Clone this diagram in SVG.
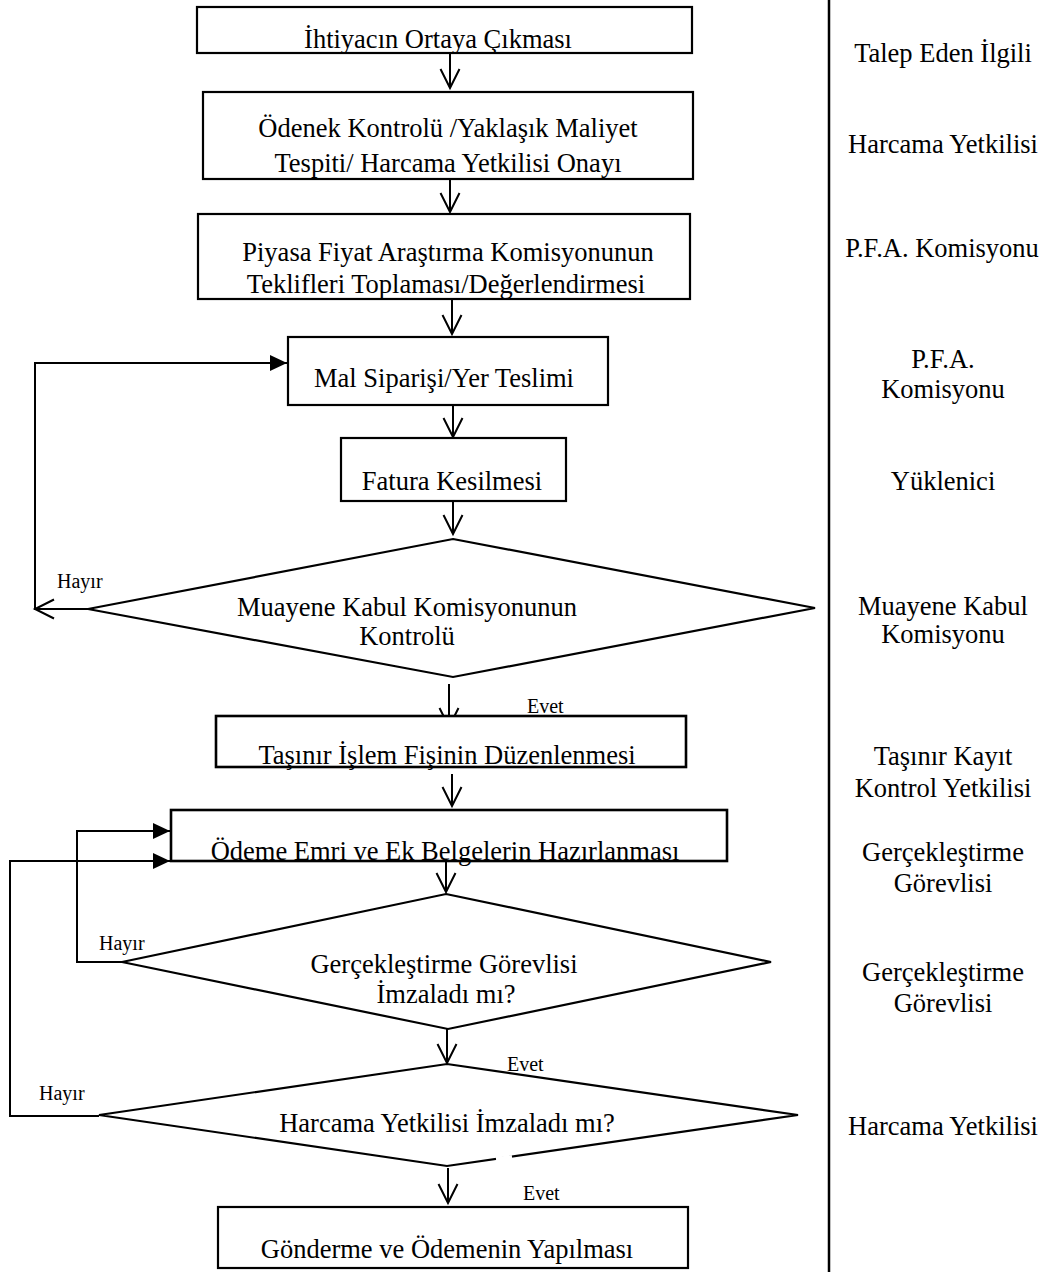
<svg xmlns="http://www.w3.org/2000/svg" width="1057" height="1272" viewBox="0 0 1057 1272">
<style>
.bx{fill:#fff;stroke:#000;stroke-width:2.2}
.ln{fill:none;stroke:#000;stroke-width:2}
.t{font-family:"Liberation Serif","Times New Roman",serif;font-size:26.5px;fill:#000;text-anchor:middle}
.s{font-family:"Liberation Serif","Times New Roman",serif;font-size:20px;fill:#000}
</style>
<defs>
<marker id="open" markerUnits="userSpaceOnUse" markerWidth="24" markerHeight="24" refX="20" refY="12" orient="auto">
<path d="M1,2.5 L20,12 L1,21.5" fill="none" stroke="#000" stroke-width="2"/>
</marker>
<marker id="fill" markerUnits="userSpaceOnUse" markerWidth="20" markerHeight="20" refX="17" refY="10" orient="auto">
<path d="M0,2 L17,10 L0,18 Z" fill="#000"/>
</marker>
</defs>
<rect width="1057" height="1272" fill="#fff"/>
<line x1="829" y1="0" x2="829" y2="1272" stroke="#000" stroke-width="2.5"/>

<g id="connectors">
<line class="ln" x1="450" y1="53" x2="450" y2="88" marker-end="url(#open)"/>
<line class="ln" x1="450" y1="179" x2="450" y2="212" marker-end="url(#open)"/>
<line class="ln" x1="452" y1="299" x2="452" y2="334" marker-end="url(#open)"/>
<line class="ln" x1="453" y1="405" x2="453" y2="437" marker-end="url(#open)"/>
<line class="ln" x1="453" y1="501" x2="453" y2="534" marker-end="url(#open)"/>
<line class="ln" x1="449" y1="684" x2="449" y2="727" marker-end="url(#open)"/>
<line class="ln" x1="452" y1="774" x2="452" y2="806" marker-end="url(#open)"/>
<line class="ln" x1="446" y1="862" x2="446" y2="892" marker-end="url(#open)"/>
<line class="ln" x1="447" y1="1029" x2="447" y2="1063" marker-end="url(#open)"/>
<line class="ln" x1="448" y1="1168" x2="448" y2="1203" marker-end="url(#open)"/>
<line class="ln" x1="88" y1="609" x2="35" y2="609" marker-end="url(#open)"/>
<polyline class="ln" points="35,610 35,363 287,363" marker-end="url(#fill)"/>
<polyline class="ln" points="122,962 77,962 77,831 170,831" marker-end="url(#fill)"/>
<polyline class="ln" points="99,1116 10,1116 10,861 170,861" marker-end="url(#fill)"/>
<text class="s" x="57" y="588">Hayır</text>
<text class="s" x="527" y="713">Evet</text>
<text class="s" x="99" y="950">Hayır</text>
<text class="s" x="507" y="1071">Evet</text>
<text class="s" x="39" y="1100">Hayır</text>
<text class="s" x="523" y="1200">Evet</text>
</g>

<g id="n1"><rect class="bx" x="197" y="7" width="495" height="46"/><text class="t" x="438" y="48">İhtiyacın Ortaya Çıkması</text></g>
<g id="n2"><rect class="bx" x="203" y="92" width="490" height="87"/><text class="t" x="448" y="137">Ödenek Kontrolü /Yaklaşık Maliyet</text><text class="t" x="448" y="172">Tespiti/ Harcama Yetkilisi Onayı</text></g>
<g id="n3"><rect class="bx" x="198" y="214" width="492" height="85"/><text class="t" x="448" y="261">Piyasa Fiyat Araştırma Komisyonunun</text><text class="t" x="446" y="293">Teklifleri Toplaması/Değerlendirmesi</text></g>
<g id="n4"><rect class="bx" x="288" y="337" width="320" height="68"/><text class="t" x="444" y="387">Mal Siparişi/Yer Teslimi</text></g>
<g id="n5"><rect class="bx" x="341" y="438" width="225" height="63"/><text class="t" x="452" y="490">Fatura Kesilmesi</text></g>
<g id="n6"><polygon class="bx" points="453,539 815,608 453,677 88,609"/><text class="t" x="407" y="616">Muayene Kabul Komisyonunun</text><text class="t" x="407" y="645">Kontrolü</text></g>
<g id="n7"><rect class="bx" x="216" y="716" width="470" height="51" style="stroke-width:2.6"/><text class="t" x="447" y="764">Taşınır İşlem Fişinin Düzenlenmesi</text></g>
<g id="n8"><rect class="bx" x="171" y="810" width="556" height="51" style="stroke-width:2.6"/><text class="t" x="445" y="860">Ödeme Emri ve Ek Belgelerin Hazırlanması</text></g>
<g id="n9"><polygon class="bx" points="446,894 771,962 448,1029 122,962"/><text class="t" x="444" y="973">Gerçekleştirme Görevlisi</text><text class="t" x="446" y="1003">İmzaladı mı?</text></g>
<g id="n10"><polygon class="bx" points="447,1064 798,1115 447,1166 99,1115"/><line x1="496" y1="1159" x2="512" y2="1157" stroke="#fff" stroke-width="4"/><text class="t" x="447" y="1132">Harcama Yetkilisi İmzaladı mı?</text></g>
<g id="n11"><rect class="bx" x="218" y="1207" width="470" height="61"/><text class="t" x="447" y="1258">Gönderme ve Ödemenin Yapılması</text></g>

<g id="lanes">
<text class="t" x="943" y="62">Talep Eden İlgili</text>
<text class="t" x="943" y="153">Harcama Yetkilisi</text>
<text class="t" x="942" y="257">P.F.A. Komisyonu</text>
<text class="t" x="943" y="368">P.F.A.</text>
<text class="t" x="943" y="398">Komisyonu</text>
<text class="t" x="943" y="490">Yüklenici</text>
<text class="t" x="943" y="615">Muayene Kabul</text>
<text class="t" x="943" y="643">Komisyonu</text>
<text class="t" x="943" y="765">Taşınır Kayıt</text>
<text class="t" x="943" y="797">Kontrol Yetkilisi</text>
<text class="t" x="943" y="861">Gerçekleştirme</text>
<text class="t" x="943" y="892">Görevlisi</text>
<text class="t" x="943" y="981">Gerçekleştirme</text>
<text class="t" x="943" y="1012">Görevlisi</text>
<text class="t" x="943" y="1135">Harcama Yetkilisi</text>
</g>
</svg>
